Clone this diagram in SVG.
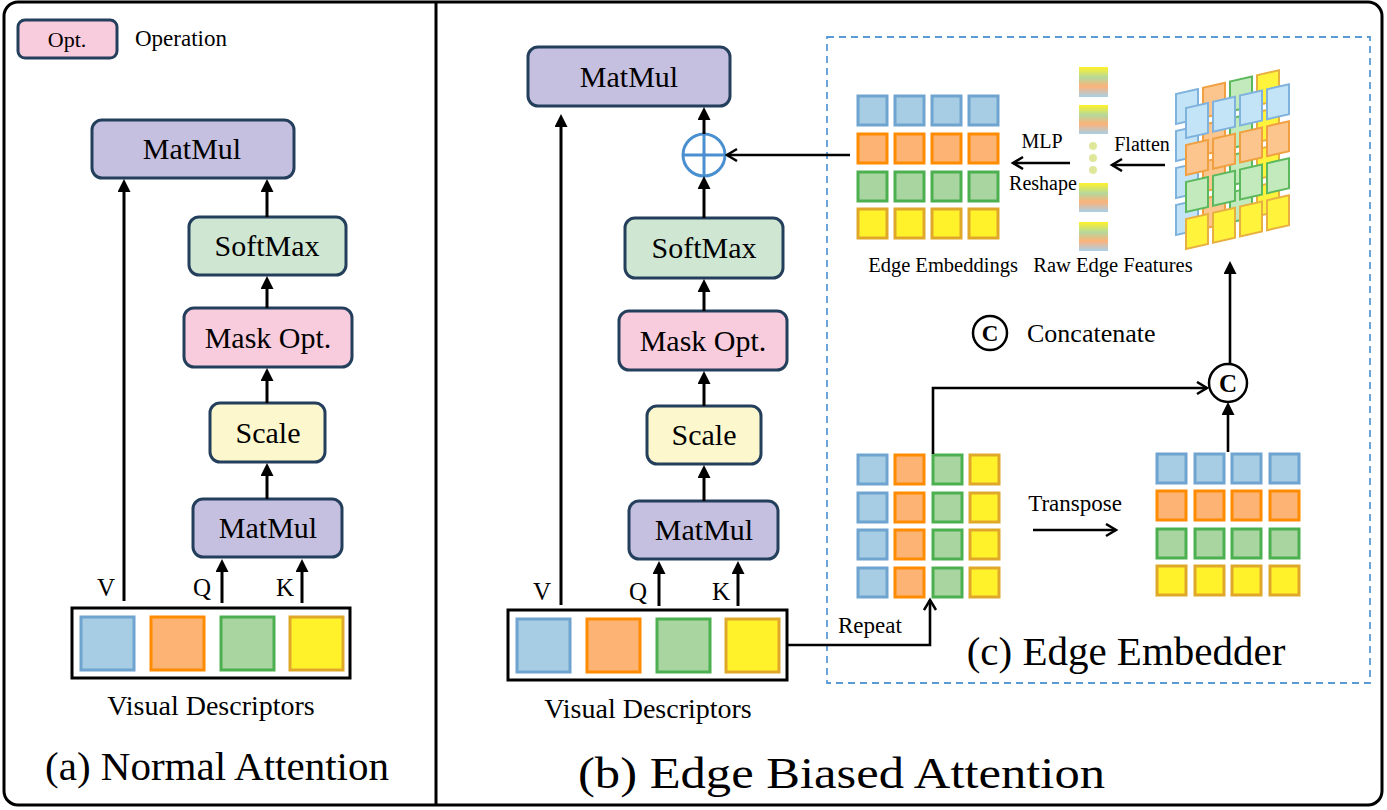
<svg xmlns="http://www.w3.org/2000/svg" width="1387" height="810" viewBox="0 0 1387 810">
<defs>
<style>
text{font-family:'Liberation Serif','DejaVu Serif',serif;fill:#000}
.box{stroke:#243f5c;stroke-width:3}
.mm{fill:#c5bfe0}.sm{fill:#cfe6d3}.mk{fill:#f9ccdd}.sc{fill:#fdf7cd}
.ln{stroke:#000;stroke-width:3;fill:none}
.ln2{stroke:#000;stroke-width:2.6;fill:none}
.b{fill:#a6cde3;stroke:#6fa4d0;stroke-width:3}
.o{fill:#fdb374;stroke:#ff8c00;stroke-width:3}
.g{fill:#a8d5a0;stroke:#4caf50;stroke-width:3}
.y{fill:#fff22a;stroke:#e0a82a;stroke-width:3}
.b3{fill:#c3e4f7;stroke:#7fb2dd;stroke-width:2}
.o3{fill:#fcc58e;stroke:#f0a040;stroke-width:2}
.g3{fill:#c2eabd;stroke:#5cb85c;stroke-width:2}
.y3{fill:#fff33c;stroke:#e8b040;stroke-width:2}
</style>
<marker id="tri" markerUnits="userSpaceOnUse" markerWidth="14" markerHeight="14" refX="4" refY="6.5" orient="auto"><path d="M0,0 L13,6.5 L0,13 z" fill="#000"/></marker>
<marker id="vee" markerUnits="userSpaceOnUse" markerWidth="14" markerHeight="16" refX="11" refY="7" orient="auto"><path d="M1,1 L11,7 L1,13" fill="none" stroke="#000" stroke-width="2.5"/></marker>
<linearGradient id="grad" x1="0" y1="0" x2="0" y2="1">
<stop offset="0" stop-color="#fff22a"/><stop offset="0.35" stop-color="#b5d89c"/><stop offset="0.65" stop-color="#fcb27a"/><stop offset="1" stop-color="#a8d0e6"/>
</linearGradient>
</defs>
<rect x="0" y="0" width="1387" height="810" fill="#fff"/>
<rect x="4" y="2" width="1378" height="803" rx="14" fill="none" stroke="#000" stroke-width="3"/>
<line x1="436" y1="2" x2="436" y2="805" stroke="#000" stroke-width="3"/>

<g font-family="Liberation Serif, DejaVu Serif, serif">
<g id="legend-opt">
<rect class="box mk" x="18" y="20" width="99" height="38" rx="7"/>
<text x="67" y="47" font-size="22" text-anchor="middle">Opt.</text>
<text x="135" y="46" font-size="23">Operation</text>
</g>

<g id="a-matmul-top"><rect class="box mm" x="92" y="120" width="202" height="58" rx="10"/><text x="192" y="159" font-size="30" text-anchor="middle">MatMul</text></g>
<g id="a-softmax"><rect class="box sm" x="189" y="217" width="157" height="58" rx="10"/><text x="267" y="256" font-size="30" text-anchor="middle">SoftMax</text></g>
<g id="a-mask"><rect class="box mk" x="184" y="308" width="168" height="59" rx="10"/><text x="268" y="348" font-size="30" text-anchor="middle">Mask Opt.</text></g>
<g id="a-scale"><rect class="box sc" x="210" y="403" width="115" height="59" rx="10"/><text x="268" y="443" font-size="30" text-anchor="middle">Scale</text></g>
<g id="a-matmul-bot"><rect class="box mm" x="193" y="499" width="149" height="58" rx="10"/><text x="268" y="538" font-size="30" text-anchor="middle">MatMul</text></g>
<g id="a-visual">
<rect x="72" y="608" width="278" height="70" fill="#fff" stroke="#000" stroke-width="3"/>
<rect class="b" x="81" y="617" width="53" height="53"/>
<rect class="o" x="151" y="617" width="53" height="53"/>
<rect class="g" x="221" y="617" width="53" height="53"/>
<rect class="y" x="290" y="617" width="53" height="53"/>
<text x="211" y="715" font-size="28" text-anchor="middle">Visual Descriptors</text>
</g>
<g id="a-labels">
<text x="106" y="596" font-size="25" text-anchor="middle">V</text>
<text x="202" y="596" font-size="25" text-anchor="middle">Q</text>
<text x="285" y="596" font-size="25" text-anchor="middle">K</text>
<text x="217" y="780" font-size="41" text-anchor="middle">(a) Normal Attention</text>
</g>

<g id="b-matmul-top"><rect class="box mm" x="528" y="47" width="202" height="59" rx="10"/><text x="629" y="87" font-size="30" text-anchor="middle">MatMul</text></g>
<g id="b-plus"><circle cx="704" cy="155" r="21" fill="#fff" stroke="#4a8fd0" stroke-width="3"/><path d="M683,155 H725 M704,134 V176" stroke="#4a8fd0" stroke-width="3"/></g>
<g id="b-softmax"><rect class="box sm" x="625" y="218" width="158" height="60" rx="10"/><text x="704" y="258" font-size="30" text-anchor="middle">SoftMax</text></g>
<g id="b-mask"><rect class="box mk" x="619" y="311" width="168" height="59" rx="10"/><text x="703" y="351" font-size="30" text-anchor="middle">Mask Opt.</text></g>
<g id="b-scale"><rect class="box sc" x="647" y="406" width="114" height="58" rx="10"/><text x="704" y="445" font-size="30" text-anchor="middle">Scale</text></g>
<g id="b-matmul-bot"><rect class="box mm" x="629" y="501" width="149" height="58" rx="10"/><text x="704" y="540" font-size="30" text-anchor="middle">MatMul</text></g>
<g id="b-visual">
<rect x="508" y="610" width="279" height="70" fill="#fff" stroke="#000" stroke-width="3"/>
<rect class="b" x="517" y="619" width="53" height="53"/>
<rect class="o" x="587" y="619" width="53" height="53"/>
<rect class="g" x="657" y="619" width="53" height="53"/>
<rect class="y" x="726" y="619" width="53" height="53"/>
<text x="648" y="718" font-size="28" text-anchor="middle">Visual Descriptors</text>
</g>
<g id="b-labels">
<text x="542" y="600" font-size="25" text-anchor="middle">V</text>
<text x="638" y="600" font-size="25" text-anchor="middle">Q</text>
<text x="721" y="600" font-size="25" text-anchor="middle">K</text>
<text x="578" y="788" font-size="45" textLength="527" lengthAdjust="spacingAndGlyphs">(b) Edge Biased Attention</text>
</g>

<g id="c-frame">
<rect x="827" y="37" width="543" height="646" fill="none" stroke="#5b9bd5" stroke-width="1.8" stroke-dasharray="7 5"/>
<text x="1126" y="665" font-size="41" text-anchor="middle">(c) Edge Embedder</text>
</g>

<g id="c-edge-embeddings">
<rect class="b" x="858" y="96" width="29" height="29"/><rect class="b" x="895" y="96" width="29" height="29"/><rect class="b" x="932" y="96" width="29" height="29"/><rect class="b" x="969" y="96" width="29" height="29"/>
<rect class="o" x="858" y="134" width="29" height="29"/><rect class="o" x="895" y="134" width="29" height="29"/><rect class="o" x="932" y="134" width="29" height="29"/><rect class="o" x="969" y="134" width="29" height="29"/>
<rect class="g" x="858" y="172" width="29" height="29"/><rect class="g" x="895" y="172" width="29" height="29"/><rect class="g" x="932" y="172" width="29" height="29"/><rect class="g" x="969" y="172" width="29" height="29"/>
<rect class="y" x="858" y="209" width="29" height="29"/><rect class="y" x="895" y="209" width="29" height="29"/><rect class="y" x="932" y="209" width="29" height="29"/><rect class="y" x="969" y="209" width="29" height="29"/>
<text x="943" y="272" font-size="20.5" text-anchor="middle">Edge Embeddings</text>
</g>

<g id="c-raw-features">
<rect x="1079" y="67" width="29" height="30" fill="url(#grad)"/>
<rect x="1079" y="105" width="29" height="29" fill="url(#grad)"/>
<circle cx="1093" cy="146" r="4" fill="#dfe89a"/>
<circle cx="1093" cy="158" r="4" fill="#dfe89a"/>
<circle cx="1093" cy="170" r="4" fill="#dfe89a"/>
<rect x="1079" y="183" width="29" height="29" fill="url(#grad)"/>
<rect x="1079" y="222" width="29" height="29" fill="url(#grad)"/>
<text x="1113" y="272" font-size="20.5" text-anchor="middle">Raw Edge Features</text>
</g>

<g id="c-stack">
<g transform="translate(1176,94) skewY(-13)">
<rect class="b3" x="0" y="0" width="22" height="30"/><rect class="o3" x="27" y="0" width="22" height="30"/><rect class="g3" x="54" y="0" width="22" height="30"/><rect class="y3" x="81" y="0" width="22" height="30"/>
<rect class="b3" x="0" y="37" width="22" height="30"/><rect class="o3" x="27" y="37" width="22" height="30"/><rect class="g3" x="54" y="37" width="22" height="30"/><rect class="y3" x="81" y="37" width="22" height="30"/>
<rect class="b3" x="0" y="74" width="22" height="30"/><rect class="o3" x="27" y="74" width="22" height="30"/><rect class="g3" x="54" y="74" width="22" height="30"/><rect class="y3" x="81" y="74" width="22" height="30"/>
<rect class="b3" x="0" y="111" width="22" height="30"/><rect class="o3" x="27" y="111" width="22" height="30"/><rect class="g3" x="54" y="111" width="22" height="30"/><rect class="y3" x="81" y="111" width="22" height="30"/>
</g>
<g transform="translate(1186,108) skewY(-13)">
<rect class="b3" x="0" y="0" width="22" height="30"/><rect class="b3" x="27" y="0" width="22" height="30"/><rect class="b3" x="54" y="0" width="22" height="30"/><rect class="b3" x="81" y="0" width="22" height="30"/>
<rect class="o3" x="0" y="37" width="22" height="30"/><rect class="o3" x="27" y="37" width="22" height="30"/><rect class="o3" x="54" y="37" width="22" height="30"/><rect class="o3" x="81" y="37" width="22" height="30"/>
<rect class="g3" x="0" y="74" width="22" height="30"/><rect class="g3" x="27" y="74" width="22" height="30"/><rect class="g3" x="54" y="74" width="22" height="30"/><rect class="g3" x="81" y="74" width="22" height="30"/>
<rect class="y3" x="0" y="111" width="22" height="30"/><rect class="y3" x="27" y="111" width="22" height="30"/><rect class="y3" x="54" y="111" width="22" height="30"/><rect class="y3" x="81" y="111" width="22" height="30"/>
</g>
</g>

<g id="c-legend-concat">
<circle cx="990" cy="333" r="17" fill="#fff" stroke="#000" stroke-width="2.5"/>
<text x="990" y="341" font-size="23" font-weight="bold" text-anchor="middle">C</text>
<text x="1027" y="342" font-size="26">Concatenate</text>
</g>

<g id="c-concat">
<circle cx="1228" cy="383" r="19" fill="#fff" stroke="#000" stroke-width="2.5"/>
<text x="1228" y="392" font-size="25" font-weight="bold" text-anchor="middle">C</text>
</g>

<g id="c-repeat-grid">
<rect class="b" x="858" y="455" width="29" height="29"/><rect class="o" x="895" y="455" width="29" height="29"/><rect class="g" x="933" y="455" width="29" height="29"/><rect class="y" x="970" y="455" width="29" height="29"/>
<rect class="b" x="858" y="493" width="29" height="29"/><rect class="o" x="895" y="493" width="29" height="29"/><rect class="g" x="933" y="493" width="29" height="29"/><rect class="y" x="970" y="493" width="29" height="29"/>
<rect class="b" x="858" y="530" width="29" height="29"/><rect class="o" x="895" y="530" width="29" height="29"/><rect class="g" x="933" y="530" width="29" height="29"/><rect class="y" x="970" y="530" width="29" height="29"/>
<rect class="b" x="858" y="568" width="29" height="29"/><rect class="o" x="895" y="568" width="29" height="29"/><rect class="g" x="933" y="568" width="29" height="29"/><rect class="y" x="970" y="568" width="29" height="29"/>
</g>

<g id="c-transposed-grid">
<rect class="b" x="1157" y="454" width="29" height="29"/><rect class="b" x="1195" y="454" width="29" height="29"/><rect class="b" x="1232" y="454" width="29" height="29"/><rect class="b" x="1270" y="454" width="29" height="29"/>
<rect class="o" x="1157" y="491" width="29" height="29"/><rect class="o" x="1195" y="491" width="29" height="29"/><rect class="o" x="1232" y="491" width="29" height="29"/><rect class="o" x="1270" y="491" width="29" height="29"/>
<rect class="g" x="1157" y="529" width="29" height="29"/><rect class="g" x="1195" y="529" width="29" height="29"/><rect class="g" x="1232" y="529" width="29" height="29"/><rect class="g" x="1270" y="529" width="29" height="29"/>
<rect class="y" x="1157" y="566" width="29" height="29"/><rect class="y" x="1195" y="566" width="29" height="29"/><rect class="y" x="1232" y="566" width="29" height="29"/><rect class="y" x="1270" y="566" width="29" height="29"/>
</g>

<g id="c-labels">
<text x="1042" y="148" font-size="20" text-anchor="middle">MLP</text>
<text x="1043" y="190" font-size="20" text-anchor="middle">Reshape</text>
<text x="1142" y="151" font-size="20" text-anchor="middle">Flatten</text>
<text x="1075" y="511" font-size="23" text-anchor="middle">Transpose</text>
<text x="838" y="633" font-size="23">Repeat</text>
</g>
</g>

<g id="connectors">
<line class="ln" x1="124" y1="601" x2="124" y2="188" marker-end="url(#tri)"/>
<line class="ln" x1="267" y1="217" x2="267" y2="188" marker-end="url(#tri)"/>
<line class="ln" x1="267" y1="308" x2="267" y2="285" marker-end="url(#tri)"/>
<line class="ln" x1="267" y1="403" x2="267" y2="377" marker-end="url(#tri)"/>
<line class="ln" x1="267" y1="499" x2="267" y2="472" marker-end="url(#tri)"/>
<line class="ln" x1="222" y1="603" x2="222" y2="568" marker-end="url(#tri)"/>
<line class="ln" x1="302" y1="603" x2="302" y2="568" marker-end="url(#tri)"/>

<line class="ln" x1="561" y1="605" x2="561" y2="123" marker-end="url(#tri)"/>
<line class="ln" x1="704" y1="134" x2="704" y2="116" marker-end="url(#tri)"/>
<line class="ln" x1="704" y1="218" x2="704" y2="185" marker-end="url(#tri)"/>
<line class="ln" x1="704" y1="311" x2="704" y2="288" marker-end="url(#tri)"/>
<line class="ln" x1="704" y1="406" x2="704" y2="380" marker-end="url(#tri)"/>
<line class="ln" x1="704" y1="501" x2="704" y2="474" marker-end="url(#tri)"/>
<line class="ln" x1="659" y1="606" x2="659" y2="570" marker-end="url(#tri)"/>
<line class="ln" x1="738" y1="606" x2="738" y2="570" marker-end="url(#tri)"/>

<line class="ln2" x1="850" y1="155" x2="727" y2="155" marker-end="url(#vee)"/>
<line class="ln2" x1="1070" y1="163" x2="1013" y2="163" marker-end="url(#vee)"/>
<line class="ln2" x1="1165" y1="165" x2="1112" y2="165" marker-end="url(#vee)"/>
<line class="ln2" x1="1230" y1="364" x2="1230" y2="270" marker-end="url(#tri)"/>
<line class="ln2" x1="1228" y1="452" x2="1228" y2="411" marker-end="url(#tri)"/>
<path class="ln2" d="M933,454 V388 H1207" marker-end="url(#vee)"/>
<line class="ln2" x1="1033" y1="530" x2="1116" y2="530" marker-end="url(#vee)"/>
<path class="ln2" d="M787,645 H930 V600" marker-end="url(#vee)"/>
</g>
</svg>
